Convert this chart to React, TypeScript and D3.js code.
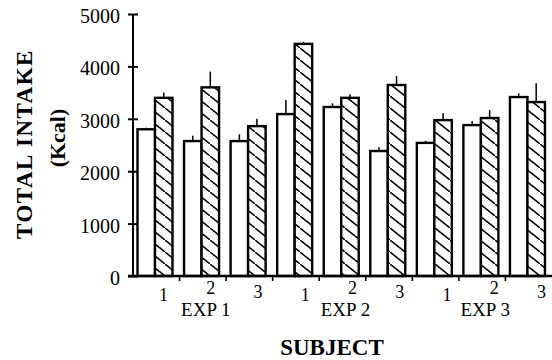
import React, { useEffect, useRef } from 'react';
import * as d3 from 'd3';

// subjects per experiment, in drawing order
const groups = ['E1S1', 'E1S2', 'E1S3', 'E2S1', 'E2S2', 'E2S3', 'E3S1', 'E3S2', 'E3S3'];
const subjectLabels = ['1', '2', '3', '1', '2', '3', '1', '2', '3'];
const experiments = ['EXP 1', 'EXP 2', 'EXP 3'];

// open bars
const plainValues = [2800, 2575, 2575, 3090, 3225, 2385, 2540, 2880, 3415];
const plainErrors = [30, 100, 130, 270, 70, 70, 40, 80, 70];
// hatched bars
const hatchedValues = [3400, 3600, 2860, 4430, 3400, 3645, 2975, 3015, 3320];
const hatchedErrors = [100, 300, 140, 40, 70, 170, 130, 150, 360];

const yTicks = [0, 1000, 2000, 3000, 4000, 5000];

const App = () => {
  const svgRef = useRef<SVGSVGElement>(null);

  useEffect(() => {
    const svg = d3.select(svgRef.current);
    svg.selectAll('*').remove();

    const width = 552;
    const height = 360;
    const font = '"Liberation Serif", "Times New Roman", serif';
    const left = 133;
    const right = 552;
    const top = 14;
    const bottom = 276;

    svg.attr('width', width).attr('height', height);

    // diagonal hatch, running down to the right
    const defs = svg.append('defs');
    const pat = defs.append('pattern')
      .attr('id', 'hatch')
      .attr('patternUnits', 'userSpaceOnUse')
      .attr('width', 15)
      .attr('height', 12);
    pat.append('rect').attr('width', 15).attr('height', 12).attr('fill', '#fff');
    [[-15, -12], [0, 0], [15, 12]].forEach(([dx, dy]) => {
      pat.append('line')
        .attr('x1', dx).attr('y1', dy)
        .attr('x2', dx + 15).attr('y2', dy + 12)
        .attr('stroke', '#000')
        .attr('stroke-width', 1.5);
    });

    const x = d3.scaleBand().domain(groups).range([left, right]).padding(0);
    const inner = d3.scaleBand().domain(['plain', 'hatched']).range([4.5, 39.5]).padding(0);
    const y = d3.scaleLinear().domain([0, 5000]).range([bottom, top]);

    const rows = groups.map((g, i) => ({
      g,
      plain: plainValues[i],
      plainErr: plainErrors[i],
      hatched: hatchedValues[i],
      hatchedErr: hatchedErrors[i],
    }));

    const bars = svg.append('g');
    const kinds = [
      { key: 'plain', err: 'plainErr', fill: '#fff' },
      { key: 'hatched', err: 'hatchedErr', fill: 'url(#hatch)' },
    ];

    kinds.forEach(k => {
      // error bars first so the bar outline covers their foot
      bars.selectAll(`.err-${k.key}`)
        .data(rows)
        .enter()
        .append('line')
        .attr('x1', d => x(d.g) + inner(k.key) + inner.bandwidth() / 2)
        .attr('x2', d => x(d.g) + inner(k.key) + inner.bandwidth() / 2)
        .attr('y1', d => y(d[k.key]))
        .attr('y2', d => y(d[k.key] + d[k.err]))
        .attr('stroke', '#000')
        .attr('stroke-width', 1.5);

      bars.selectAll(`.bar-${k.key}`)
        .data(rows)
        .enter()
        .append('rect')
        .attr('x', d => x(d.g) + inner(k.key))
        .attr('width', inner.bandwidth())
        .attr('y', d => y(d[k.key]))
        .attr('height', d => bottom - y(d[k.key]))
        .attr('fill', k.fill)
        .attr('stroke', '#000')
        .attr('stroke-width', 2.4);
    });

    // y axis
    const yAxis = svg.append('g')
      .attr('transform', `translate(${left},0)`)
      .call(d3.axisLeft(y).tickValues(yTicks).tickSize(5).tickPadding(8).tickFormat(d3.format('d')));
    yAxis.select('.domain').attr('stroke', '#000').attr('stroke-width', 2).attr('d', `M0,${top}V${bottom}`);
    yAxis.selectAll('.tick line').attr('x1', -5).attr('x2', 5).attr('stroke-width', 2);
    yAxis.selectAll('.tick text')
      .attr('dy', '0.42em')
      .style('font-family', font)
      .style('font-size', '20px')
      .attr('fill', '#000');

    // x axis
    const xAxis = svg.append('g');
    xAxis.append('line')
      .attr('x1', left - 5).attr('x2', right)
      .attr('y1', bottom).attr('y2', bottom)
      .attr('stroke', '#000').attr('stroke-width', 2.4);
    xAxis.selectAll('.xtick')
      .data(groups.slice(1))
      .enter()
      .append('line')
      .attr('x1', d => x(d)).attr('x2', d => x(d))
      .attr('y1', bottom - 1).attr('y2', bottom + 5)
      .attr('stroke', '#000').attr('stroke-width', 1.6);

    // subject numbers (typeset slightly right of each group)
    const labelX = d3.scaleBand().domain(groups).range([left + 7, right + 13]);
    xAxis.selectAll('.subj')
      .data(groups)
      .enter()
      .append('text')
      .attr('x', d => labelX(d) + labelX.bandwidth() / 2)
      .attr('y', (d, i) => (subjectLabels[i] === '1' ? 301 : subjectLabels[i] === '2' ? 294 : 298))
      .attr('text-anchor', 'middle')
      .style('font-family', font)
      .style('font-size', '18px')
      .text((d, i) => subjectLabels[i]);

    xAxis.selectAll('.exp')
      .data(experiments)
      .enter()
      .append('text')
      .attr('x', (d, i) => x(groups[i * 3 + 1]) + x.bandwidth() / 2 + 3)
      .attr('y', 316)
      .attr('text-anchor', 'middle')
      .style('font-family', font)
      .style('font-size', '19px')
      .text(d => d);

    // axis titles
    svg.append('text')
      .attr('x', 332)
      .attr('y', 355)
      .attr('text-anchor', 'middle')
      .style('font-family', font)
      .style('font-size', '23px')
      .style('font-weight', 'bold')
      .text('SUBJECT');

    svg.append('text')
      .attr('transform', 'translate(32,144) rotate(-90)')
      .attr('text-anchor', 'middle')
      .style('font-family', font)
      .style('font-size', '23px')
      .style('font-weight', 'bold')
      .style('letter-spacing', '1.5px')
      .text('TOTAL INTAKE');

    svg.append('text')
      .attr('transform', 'translate(65,138) rotate(-90)')
      .attr('text-anchor', 'middle')
      .style('font-family', font)
      .style('font-size', '22px')
      .style('font-weight', 'bold')
      .text('(Kcal)');
  }, []);

  return (
    <svg ref={svgRef} style={{ position: 'absolute', left: 0, top: 0, background: '#fff' }} />
  );
};

export default App;
